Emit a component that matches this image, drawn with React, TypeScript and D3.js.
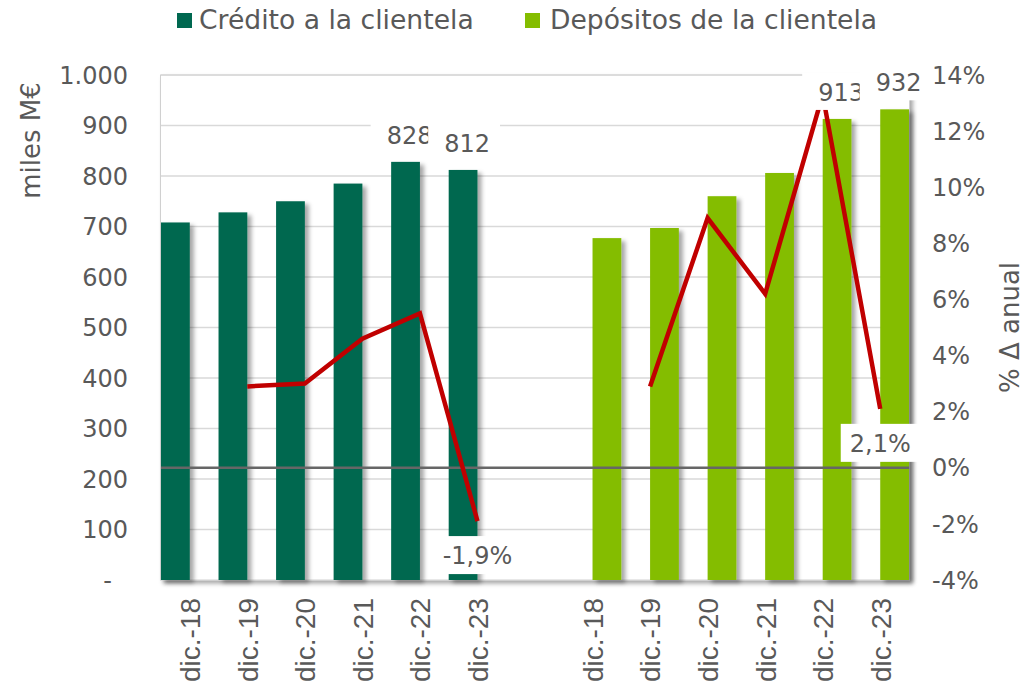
import React, { useEffect, useRef } from "react";
import * as d3 from "d3";

const years = ["dic.-18", "dic.-19", "dic.-20", "dic.-21", "dic.-22", "dic.-23"];
const credito = [708, 728, 750, 785, 828, 812];
const depositos = [677, 697, 760, 806, 913, 932];
const credVar: (number | null)[] = [null, 2.9, 3.0, 4.6, 5.5, -1.9];
const depVar: (number | null)[] = [null, 2.9, 8.9, 6.2, 13.3, 2.1];
const seriesNames = ["Crédito a la clientela", "Depósitos de la clientela"];
const leftTicks = [0, 100, 200, 300, 400, 500, 600, 700, 800, 900, 1000];
const rightTicks = [-4, -2, 0, 2, 4, 6, 8, 10, 12, 14];
const labeledBars = [4, 5];
const labeledPoints = [5];

const DARK = "#006850";
const LIGHT = "#84BD00";
const RED = "#C00000";
const TXT = "#595959";
const NUMFONT = "'DejaVu Sans', Verdana, sans-serif";
const CATFONT = "'Liberation Sans', Arial, sans-serif";

const locale = d3.formatLocale({
  decimal: ",",
  thousands: ".",
  grouping: [3],
  currency: ["", "€"],
  minus: "-",
});
const fmtThousands = locale.format(",");
const fmtPct0 = locale.format(".0f");
const fmtPct1 = locale.format(".1f");

export default function App() {
  const ref = useRef<SVGSVGElement>(null);

  useEffect(() => {
    const svg = d3.select(ref.current);
    svg.selectAll("*").remove();

    const L = 161, R = 909, T = 75, B = 580;
    const gap = 1;
    const nCat = years.length * 2 + gap;
    const catLabels = [...years, "", ...years];
    const off2 = years.length + gap;

    const x = d3.scaleBand<number>().domain(d3.range(nCat)).range([L, R]).padding(0);
    const sub = d3.scaleBand<number>().domain([0, 1]).range([0, x.bandwidth()]).padding(0);
    const yL = d3.scaleLinear().domain([0, 1000]).range([B, T]);
    const yR = d3.scaleLinear().domain([-4, 14]).range([B, T]);
    const cx = (i: number) => (x(i) as number) + x.bandwidth() / 2;

    const defs = svg.append("defs");
    const f1 = defs.append("filter").attr("id", "barShadow")
      .attr("x", "-50%").attr("y", "-10%").attr("width", "200%").attr("height", "130%");
    f1.append("feDropShadow").attr("dx", 4).attr("dy", 3).attr("stdDeviation", 2)
      .attr("flood-color", "#000").attr("flood-opacity", 0.35);
    const f2 = defs.append("filter").attr("id", "plotShadow")
      .attr("x", "-5%").attr("y", "-5%").attr("width", "110%").attr("height", "110%");
    f2.append("feDropShadow").attr("dx", 3).attr("dy", 3).attr("stdDeviation", 2)
      .attr("flood-color", "#000").attr("flood-opacity", 0.35);

    // plot area
    svg.append("rect")
      .attr("x", L - 0.5).attr("y", T).attr("width", R - L + 1).attr("height", B - T)
      .attr("fill", "#fff").attr("stroke", "#d0d0d0").attr("stroke-width", 1)
      .attr("filter", "url(#plotShadow)");

    // gridlines
    svg.append("g").selectAll("line").data(leftTicks.filter((d) => d > 0)).join("line")
      .attr("x1", L).attr("x2", R)
      .attr("y1", (d) => yL(d)).attr("y2", (d) => yL(d))
      .attr("stroke", "#d9d9d9").attr("stroke-width", 1.5);

    // bars
    const bars = svg.append("g").attr("filter", "url(#barShadow)");
    bars.selectAll("rect.c").data(credito).join("rect").attr("class", "c")
      .attr("x", (_, i) => (x(i) as number) + (sub(0) as number))
      .attr("width", sub.bandwidth())
      .attr("y", (d) => yL(d)).attr("height", (d) => yL(0) - yL(d))
      .attr("fill", DARK);
    bars.selectAll("rect.d").data(depositos).join("rect").attr("class", "d")
      .attr("x", (_, i) => (x(i + off2) as number) + (sub(1) as number))
      .attr("width", sub.bandwidth())
      .attr("y", (d) => yL(d)).attr("height", (d) => yL(0) - yL(d))
      .attr("fill", LIGHT);

    // zero line of right axis
    svg.append("line")
      .attr("x1", L).attr("x2", R).attr("y1", yR(0)).attr("y2", yR(0))
      .attr("stroke", "#666").attr("stroke-width", 2.5);

    // red lines
    const line = d3.line<{ i: number; v: number | null }>()
      .defined((d) => d.v != null)
      .x((d) => cx(d.i)).y((d) => yR(d.v as number));
    [credVar.map((v, i) => ({ i, v })), depVar.map((v, i) => ({ i: i + off2, v }))].forEach((pts) => {
      svg.append("path").datum(pts).attr("d", line)
        .attr("fill", "none").attr("stroke", RED).attr("stroke-width", 4.5)
        .attr("stroke-linejoin", "miter");
    });

    // labels with white boxes
    const lab = svg.append("g");
    const addLabel = (tx: number, baseline: number, text: string, padL: number, padR: number, padB: number) => {
      const gg = lab.append("g");
      const r = gg.append("rect").attr("fill", "#fff");
      const t = gg.append("text").attr("x", tx).attr("y", baseline)
        .attr("text-anchor", "middle").attr("font-family", NUMFONT).attr("font-size", 24)
        .attr("fill", TXT).text(text);
      const w = (t.node() as SVGTextElement).getComputedTextLength();
      r.attr("x", tx - w / 2 - padL).attr("y", baseline - 28)
        .attr("width", w + padL + padR).attr("height", 28 + padB);
    };
    labeledBars.forEach((i) => {
      const bx = (x(i) as number) + (sub(0) as number) + sub.bandwidth() / 2;
      addLabel(bx + 4, yL(credito[i]) - 18, fmtThousands(credito[i]), 16, 10, 9);
    });
    labeledBars.forEach((i) => {
      const bx = (x(i + off2) as number) + (sub(1) as number) + sub.bandwidth() / 2;
      addLabel(bx + 4, yL(depositos[i]) - 18, fmtThousands(depositos[i]), 16, 10, 9);
    });
    labeledPoints.forEach((i) => {
      const v1 = credVar[i] as number;
      addLabel(cx(i), yR(v1) + 43, fmtPct1(v1) + "%", 9, 10, 10);
      const v2 = depVar[i] as number;
      addLabel(cx(i + off2), yR(v2) + 43, fmtPct1(v2) + "%", 9, 10, 10);
    });

    // left axis labels
    svg.append("g").selectAll("text").data(leftTicks).join("text")
      .attr("x", (d) => (d === 0 ? 112 : 128)).attr("y", (d) => yL(d)).attr("dy", "0.36em")
      .attr("text-anchor", "end").attr("font-family", NUMFONT).attr("font-size", 24)
      .attr("fill", TXT).text((d) => (d === 0 ? "-" : fmtThousands(d)));

    // right axis labels
    svg.append("g").selectAll("text").data(rightTicks).join("text")
      .attr("x", 932).attr("y", (d) => yR(d)).attr("dy", "0.36em")
      .attr("text-anchor", "start").attr("font-family", NUMFONT).attr("font-size", 24)
      .attr("fill", TXT).text((d) => fmtPct0(d) + "%");

    // category labels
    svg.append("g").selectAll("text").data(catLabels).join("text")
      .attr("transform", (_, i) => `translate(${cx(i)},598) rotate(-90)`)
      .attr("dy", "0.37em").attr("text-anchor", "end")
      .attr("font-family", CATFONT).attr("font-size", 28).attr("fill", TXT)
      .text((d) => d);

    // axis titles
    svg.append("text").attr("transform", `translate(40,140.5) rotate(-90)`)
      .attr("text-anchor", "middle").attr("font-family", NUMFONT).attr("font-size", 26)
      .attr("fill", TXT).text("miles M€");
    svg.append("text").attr("transform", `translate(1019,${(T + B) / 2}) rotate(-90)`)
      .attr("text-anchor", "middle").attr("font-family", NUMFONT).attr("font-size", 26)
      .attr("fill", TXT).text("% Δ anual");

    // legend
    const leg = svg.append("g");
    const legRectX = [177, 525];
    const legTextX = [199, 550];
    [DARK, LIGHT].forEach((c, k) => {
      leg.append("rect").attr("x", legRectX[k]).attr("y", 13).attr("width", 15).attr("height", 15).attr("fill", c);
      leg.append("text").attr("x", legTextX[k]).attr("y", 29)
        .attr("font-family", NUMFONT).attr("font-size", 26.6).attr("fill", TXT).text(seriesNames[k]);
    });
  }, []);

  return (
    <div style={{ position: "absolute", left: 0, top: 0 }}>
      <svg ref={ref} width={1025} height={682} style={{ display: "block", background: "#fff" }} />
    </div>
  );
}
